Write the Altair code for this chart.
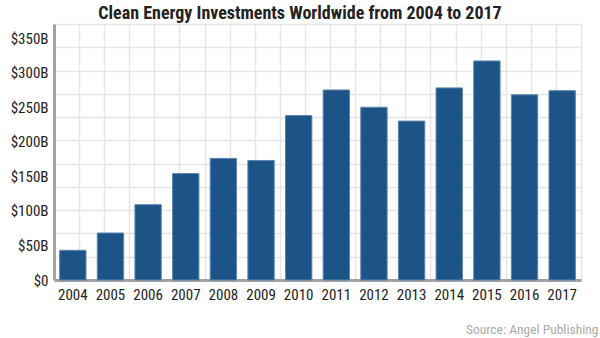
import altair as alt
import pandas as pd

years = [str(y) for y in range(2004, 2018)]
investment = [43, 68, 109, 154, 176, 173, 238, 275, 250, 230, 278, 317, 268, 274]
y_ticks = [0, 50, 100, 150, 200, 250, 300, 350]
grid_cols = list(range(22))
grid_rows = list(range(12))

df = pd.DataFrame({"year": years, "investment": investment})
grid_df = pd.DataFrame({"gx": [0], "gy": [0]})

FONT = "Roboto Condensed, Liberation Sans Narrow, DejaVu Sans Condensed, Roboto, sans-serif"
GRID = "#e6e6e6"
AXIS = "#a3a3a3"

grid = alt.Chart(grid_df).mark_point(opacity=0).encode(
    x=alt.X("gx:Q", scale=alt.Scale(domain=[0, 21], nice=False, zero=False),
            axis=alt.Axis(values=grid_cols, grid=True, labels=False, ticks=False,
                          domain=False, title=None, orient="top",
                          gridColor=GRID, gridWidth=1.5)),
    y=alt.Y("gy:Q", scale=alt.Scale(domain=[0, 11], nice=False, zero=False),
            axis=alt.Axis(values=grid_rows, grid=True, labels=False, ticks=False,
                          domain=False, title=None, orient="right",
                          gridColor=GRID, gridWidth=1.5)),
)

bars = alt.Chart(df).mark_bar(color="#1c5488", stroke="#5f84ad", strokeWidth=1).encode(
    x=alt.X("year:N", sort=None,
            scale=alt.Scale(paddingInner=0.3, paddingOuter=0.15),
            axis=alt.Axis(title="Source: Angel Publishing", labelAngle=0, ticks=False,
                          grid=False, domainColor=AXIS, domainWidth=3,
                          labelFont=FONT, labelFontSize=15, labelColor="#222222",
                          labelPadding=7,
                          titleFont=FONT, titleFontSize=13.5, titleFontWeight="normal",
                          titleColor="#aaaaaa", titleAnchor="end", titleAlign="right",
                          titleBaseline="alphabetic", titleX=544, titleY=53)),
    y=alt.Y("investment:Q", scale=alt.Scale(domain=[0, 370.5], nice=False),
            axis=alt.Axis(values=y_ticks, grid=False, ticks=False, title=None,
                          labelExpr="datum.value == 0 ? '$0' : '$' + datum.value + 'B'",
                          domainColor=AXIS, domainWidth=3,
                          labelFont=FONT, labelFontSize=15, labelColor="#222222",
                          labelPadding=6)),
)

chart = alt.layer(grid, bars).resolve_scale(x="independent", y="independent").properties(
    width=527, height=256,
    autosize=alt.AutoSizeParams(type="none"),
    padding={"left": 54, "top": 24, "right": 19, "bottom": 58},
    title=alt.Title("Clean Energy Investments Worldwide from 2004 to 2017",
                    font=FONT, fontSize=18, fontWeight="bold", color="#222222",
                    anchor="middle", dx=-17.5, dy=6, offset=7),
).configure_view(stroke=None)

chart.save("out.html", embed_options={"renderer": "svg", "actions": False})
